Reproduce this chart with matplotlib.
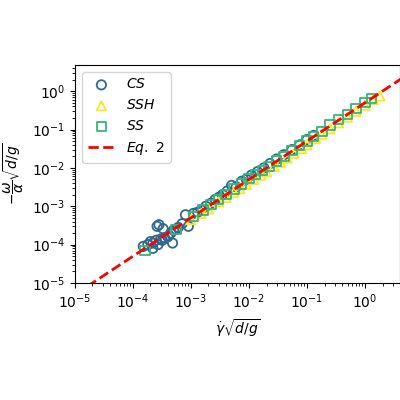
import matplotlib
matplotlib.use("Agg")
import matplotlib.pyplot as plt

cs_x = [1.5e-4, 1.8e-4, 2.0e-4, 2.2e-4, 2.5e-4, 2.7e-4, 3.0e-4, 3.2e-4, 2.8e-4, 3.5e-4, 4.0e-4, 4.5e-4, 5.0e-4, 5.5e-4, 6.0e-4, 7.0e-4, 8.0e-4, 9.0e-4, 1.1e-3, 1.3e-3, 1.5e-3, 1.8e-3, 2.2e-3, 2.6e-3, 3.0e-3, 3.5e-3, 4.2e-3, 5.0e-3, 6.0e-3, 7.5e-3, 9.0e-3, 1.1e-2, 1.4e-2, 1.8e-2, 2.3e-2, 3.0e-2, 4.0e-2, 5.5e-2, 7.5e-2, 1.0e-1, 1.3e-1, 2.2e-4, 2.6e-4, 3.3e-4, 4.8e-4]
cs_y = [9.0e-5, 1.0e-4, 1.2e-4, 1.1e-4, 1.3e-4, 1.0e-4, 1.4e-4, 1.3e-4, 3.3e-4, 1.5e-4, 1.6e-4, 2.0e-4, 2.4e-4, 2.5e-4, 2.8e-4, 3.5e-4, 6.0e-4, 3.0e-4, 6.5e-4, 7.0e-4, 8.0e-4, 1.0e-3, 1.2e-3, 1.5e-3, 1.7e-3, 2.0e-3, 2.5e-3, 3.5e-3, 3.2e-3, 4.5e-3, 5.0e-3, 6.5e-3, 8.0e-3, 1.0e-2, 1.3e-2, 1.7e-2, 2.2e-2, 3.0e-2, 4.0e-2, 5.5e-2, 7.0e-2, 8.0e-5, 3.0e-4, 2.6e-4, 1.1e-4]
ssh_x = [1.0e-3, 1.5e-3, 2.0e-3, 3.0e-3, 4.0e-3, 5.5e-3, 7.0e-3, 9.0e-3, 1.2e-2, 1.6e-2, 2.0e-2, 2.7e-2, 3.5e-2, 4.5e-2, 6.0e-2, 8.0e-2, 1.0e-1, 1.4e-1, 1.8e-1, 2.5e-1, 3.5e-1, 5.0e-1, 7.0e-1, 1.0e0, 1.4e0, 1.8e0]
ssh_y = [4.5e-4, 6.5e-4, 8.5e-4, 1.3e-3, 1.7e-3, 2.3e-3, 2.9e-3, 3.7e-3, 5.0e-3, 6.5e-3, 8.0e-3, 1.1e-2, 1.4e-2, 1.8e-2, 2.4e-2, 3.2e-2, 4.0e-2, 5.8e-2, 7.5e-2, 1.05e-1, 1.5e-1, 2.1e-1, 3.0e-1, 4.3e-1, 6.0e-1, 7.5e-1]
ss_x = [1.6e-4, 5.5e-4, 1.1e-3, 1.6e-3, 2.2e-3, 3.0e-3, 4.0e-3, 5.5e-3, 7.5e-3, 1.0e-2, 1.3e-2, 1.7e-2, 2.2e-2, 3.0e-2, 4.0e-2, 5.5e-2, 7.5e-2, 1.0e-1, 1.3e-1, 1.8e-1, 2.5e-1, 3.5e-1, 5.0e-1, 7.0e-1, 1.0e0, 1.3e0]
ss_y = [7.0e-5, 2.5e-4, 5.5e-4, 8.0e-4, 1.1e-3, 1.5e-3, 2.0e-3, 2.8e-3, 3.8e-3, 5.2e-3, 6.8e-3, 8.5e-3, 1.1e-2, 1.5e-2, 2.0e-2, 2.8e-2, 3.8e-2, 5.0e-2, 6.5e-2, 9.0e-2, 1.3e-1, 1.8e-1, 2.5e-1, 3.5e-1, 5.0e-1, 6.5e-1]
eq_x = [1e-5, 5.0]
eq_coef = 0.5

fig = plt.figure(figsize=(4, 4), dpi=100)
ax = fig.add_axes([0.1875, 0.2925, 0.8125, 0.545])
ax.scatter(cs_x, cs_y, marker='o', s=45, facecolors='none', edgecolors='#31688e', linewidths=1.3, label='$CS$')
ax.scatter(ssh_x, ssh_y, marker='^', s=45, facecolors='none', edgecolors='#fde725', linewidths=1.3, label='$SSH$')
ax.scatter(ss_x, ss_y, marker='s', s=45, facecolors='none', edgecolors='#35b779', linewidths=1.3, label='$SS$')
ax.plot(eq_x, [eq_coef * v for v in eq_x], 'r--', lw=2, label='$Eq.\\ 2$')
ax.set_xscale('log'); ax.set_yscale('log')
ax.set_xlim(1e-5, 4.0); ax.set_ylim(1e-5, 4.8)
ax.set_xlabel(r'$\dot{\gamma}\sqrt{d/g}$')
ax.set_ylabel(r'$-\dfrac{\omega}{\alpha}\sqrt{d/g}$')
ax.legend(loc='upper left')
fig.savefig('out.png', dpi=100)
